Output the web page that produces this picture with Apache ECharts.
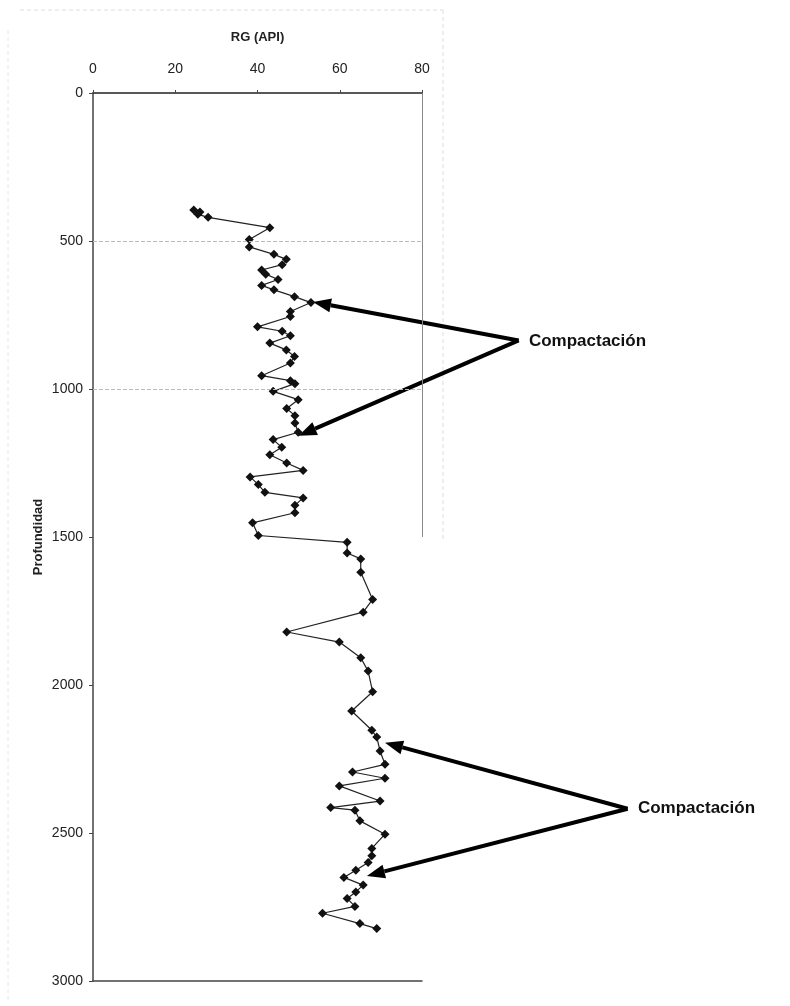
<!DOCTYPE html>
<html>
<head>
<meta charset="utf-8">
<script src="https://cdn.jsdelivr.net/npm/echarts@6/dist/echarts.min.js"></script>
<style>
html,body{margin:0;padding:0;background:#fff;}
#chart{width:790px;height:1006px;}
</style>
</head>
<body>
<div id="chart"></div>
<script>
// ---- data ----
const xTitle = 'RG (API)';
const yTitle = 'Profundidad';
const xTicks = [0, 20, 40, 60, 80];
const yTicks = [0, 500, 1000, 1500, 2000, 2500, 3000];
const depth = [395, 402, 410, 420, 455, 495, 520, 545, 562, 580, 598, 612, 630, 650, 665, 688, 708, 738, 755, 790, 805, 820, 845, 868, 890, 912, 955, 972,
  982, 1008, 1036, 1066, 1090, 1115, 1146, 1171, 1197, 1222, 1250, 1275, 1297, 1323, 1349, 1368, 1393, 1418, 1452, 1495,
  1518, 1554, 1574, 1619, 1711, 1754, 1821, 1855, 1908, 1953, 2023, 2088, 2153, 2176, 2223, 2268, 2294, 2315, 2341, 2392,
  2414, 2423, 2459, 2504, 2552, 2577, 2600, 2626, 2650, 2676, 2699, 2721, 2748, 2771, 2806, 2823];
const rg = [24.5, 26, 25.5, 28, 43, 38, 38, 44, 47, 46, 41, 42, 45, 41, 44, 49, 53, 48, 48, 40, 46, 48, 43, 47, 49, 48, 41, 48,
  49.1, 43.8, 49.9, 47.1, 49.1, 49.1, 49.9, 43.8, 45.9, 43.0, 47.1, 51.1, 38.2, 40.2, 41.8, 51.1, 49.1, 49.1, 38.8, 40.2,
  61.8, 61.8, 65.1, 65.1, 68.0, 65.7, 47.1, 59.9, 65.1, 66.9, 68.0, 62.9, 67.8, 69.0, 69.8, 71.0, 63.1, 71.0, 59.9, 69.8,
  57.8, 63.7, 64.9, 71.0, 67.8, 67.8, 66.9, 63.9, 61.0, 65.7, 63.9, 61.8, 63.7, 55.8, 64.9, 69.0];
const gridDepths = [500, 1000, 1500];
const borderDepth = 1500;
const noteText = 'Compactación';
// annotation anchors in data space: [rg, depth]
const note1 = {text: [106, 840], from: [103.5, 836], tips: [[53.5, 706], [50, 1158]]};
const note2 = {text: [132.5, 2418], from: [130, 2418], tips: [[71, 2195], [66.6, 2645]]};

const points = depth.map((d, i) => [rg[i], d]);

const chart = echarts.init(document.getElementById('chart'), null, {renderer: 'canvas'});
const font = '"Liberation Sans", Arial, sans-serif';

chart.setOption({
  animation: false,
  backgroundColor: '#fff',
  grid: {left: 93, top: 93, width: 329, height: 888},
  xAxis: [{
    type: 'value', position: 'top', min: 0, max: 80, interval: 20,
    name: xTitle, nameLocation: 'middle', nameGap: 49,
    nameTextStyle: {fontFamily: font, fontSize: 13, fontWeight: 'bold', color: '#222'},
    axisLine: {show: true, lineStyle: {color: '#222', width: 1.5}},
    axisTick: {show: true, length: 3, lineStyle: {color: '#444'}},
    axisLabel: {fontFamily: font, fontSize: 14, color: '#222', margin: 17},
    splitLine: {show: false}
  }, {
    type: 'value', position: 'bottom', min: 0, max: 80, interval: 20,
    axisLine: {show: true, onZero: false, lineStyle: {color: '#444', width: 1.5}},
    axisTick: {show: false}, axisLabel: {show: false}, splitLine: {show: false}
  }],
  yAxis: {
    type: 'value', inverse: true, min: 0, max: 3000, interval: 500,
    name: yTitle, nameLocation: 'middle', nameGap: 48, nameRotate: 90,
    nameTextStyle: {fontFamily: font, fontSize: 13, fontWeight: 'bold', color: '#222'},
    axisLine: {show: true, lineStyle: {color: '#444', width: 1.5}},
    axisTick: {show: true, length: 4, lineStyle: {color: '#444'}},
    axisLabel: {fontFamily: font, fontSize: 14, color: '#222', margin: 10, formatter: v => String(v)},
    splitLine: {show: false}
  },
  series: [{
    type: 'line', data: points, xAxisIndex: 0,
    symbol: 'diamond', symbolSize: 9, showSymbol: true,
    lineStyle: {color: '#222', width: 1.2},
    itemStyle: {color: '#111'},
    clip: false,
    markLine: {
      silent: true, symbol: 'none', label: {show: false},
      data: gridDepths.map(d => [{coord: [0, d], lineStyle: {color: '#bbb', type: 'dashed', width: 1}}, {coord: [d === borderDepth ? 85 : 80, d]}])
        .concat([[{coord: [80, 0], lineStyle: {color: '#888', type: 'solid', width: 1}}, {coord: [80, borderDepth]}]])
    }
  }]
});

function px(p) { return chart.convertToPixel({xAxisIndex: 0, yAxisIndex: 0}, p); }
function arrow(from, to) {
  const a = px(from), b = px(to);
  const dx = b[0] - a[0], dy = b[1] - a[1];
  const L = Math.sqrt(dx * dx + dy * dy);
  const ux = dx / L, uy = dy / L;
  const hl = 18, hw = 7;
  const bx = b[0] - ux * hl, by = b[1] - uy * hl;
  return [
    {type: 'line', shape: {x1: a[0], y1: a[1], x2: bx, y2: by}, style: {stroke: '#000', lineWidth: 4}},
    {type: 'polygon', shape: {points: [[b[0], b[1]], [bx - uy * hw, by + ux * hw], [bx + uy * hw, by - ux * hw]]}, style: {fill: '#000'}}
  ];
}
function note(n) {
  const t = px(n.text);
  let els = [{type: 'text', x: t[0], y: t[1], style: {text: noteText, font: 'bold 17px ' + font, fill: '#111', textVerticalAlign: 'middle'}}];
  n.tips.forEach(tp => { els = els.concat(arrow(n.from, tp)); });
  return els;
}
// faint scan-page frame lines
const frame = [
  {type: 'line', shape: {x1: 20, y1: 10, x2: 443, y2: 10}, style: {stroke: '#ddd', lineWidth: 1, lineDash: [4, 3]}},
  {type: 'line', shape: {x1: 443, y1: 10, x2: 443, y2: 540}, style: {stroke: '#ddd', lineWidth: 1, lineDash: [4, 3]}},
  {type: 'line', shape: {x1: 8, y1: 30, x2: 8, y2: 1000}, style: {stroke: '#e6e6e6', lineWidth: 1, lineDash: [4, 3]}}
];
chart.setOption({graphic: {elements: frame.concat(note(note1)).concat(note(note2))}});
</script>
</body>
</html>
